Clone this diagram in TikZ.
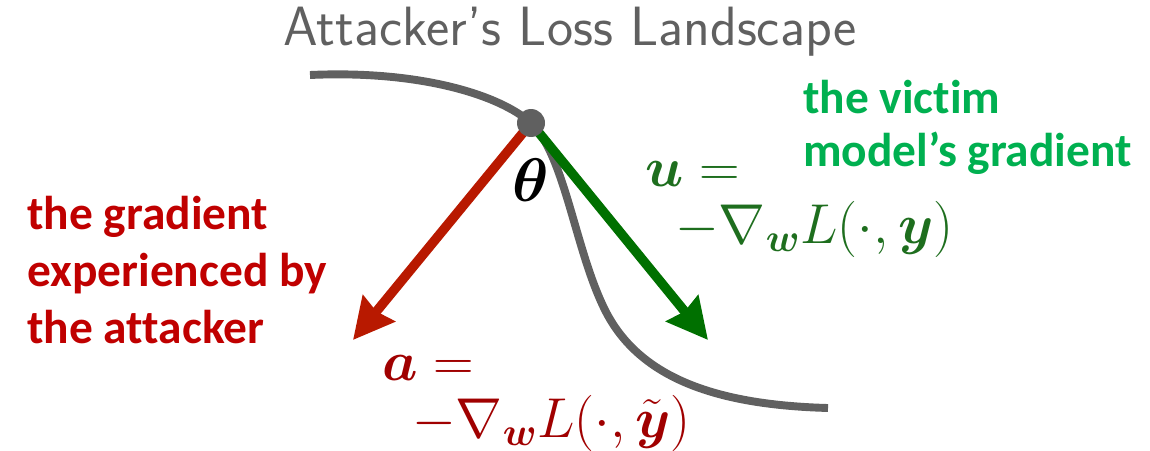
\RequirePackage{fix-cm}
\documentclass[tikz,border=0pt]{standalone}
\usepackage{amsmath}
\usepackage{fontspec}
\newfontfamily\calib[Ligatures=NoCommon]{Carlito}
\usetikzlibrary{arrows.meta}
\definecolor{curvegray}{HTML}{606060}
\definecolor{attred}{HTML}{C00000}
\definecolor{arrred}{HTML}{B81900}
\definecolor{mathred}{HTML}{A00000}
\definecolor{vicgreen}{HTML}{00B050}
\definecolor{arrgreen}{HTML}{007000}
\definecolor{mathgreen}{HTML}{1E6E1E}
\tikzset{
    grad/.style={line width=5.4pt,-{Stealth[length=23pt,width=23pt,inset=2pt]}},
    sidelbl/.style={anchor=north west,inner sep=0pt,align=left,font=\calib\bfseries\fontsize{27}{32.3}\selectfont},
    mathlbl/.style={anchor=base west,inner sep=0pt,align=left,font=\fontsize{32}{32.3}\selectfont}
}

\begin{document}
\begin{tikzpicture}[x=0.02cm,y=-0.02cm,>=Stealth]
    \useasboundingbox (0,0) rectangle (1150,450);
    \node[anchor=base,inner sep=0pt,text=curvegray,font=\sffamily\fontsize{31.5}{36}\selectfont] (title) at (570,45) {Attacker's Loss Landscape};
    % the loss curve
    \draw[curvegray,line width=4.5pt] (310,75) .. controls (420,70) and (500,95) .. (531,123)
        .. controls (565,155) and (575,250) .. (605,310)
        .. controls (640,380) and (720,405) .. (828,408);
    \coordinate (theta) at (531,123);
    \coordinate (atip) at (353,340);
    \coordinate (utip) at (708,340);
    \draw[grad,arrred] (theta) -- (atip);
    \draw[grad,arrgreen] (theta) -- (utip);
    \node[circle,fill=curvegray,inner sep=0pt,minimum size=0.56cm] (dot) at (theta) {};
    \node[anchor=base,inner sep=0pt,font=\fontsize{35}{38}\selectfont] (thetalbl) at (531,201) {$\boldsymbol{\theta}$};
    % labels
    \node[sidelbl,text=attred] (attlbl) at (27,196) {the gradient\\experienced by\\the attacker};
    \node[sidelbl,text=vicgreen,font=\calib\bfseries\fontsize{27}{30}\selectfont] (viclbl) at (803,80) {the victim\\model’s gradient};
    \node[mathlbl,text=mathgreen] (ulbl) at (645,243) {$\boldsymbol{u} =$\\\hspace*{17pt}$-\nabla_{\boldsymbol{w}} L(\cdot, \boldsymbol{y})$};
    \node[mathlbl,text=mathred] (albl) at (382,437) {$\boldsymbol{a} =$\\\hspace*{17pt}$-\nabla_{\boldsymbol{w}} L(\cdot, \tilde{\boldsymbol{y}})$};
\end{tikzpicture}
\end{document}
